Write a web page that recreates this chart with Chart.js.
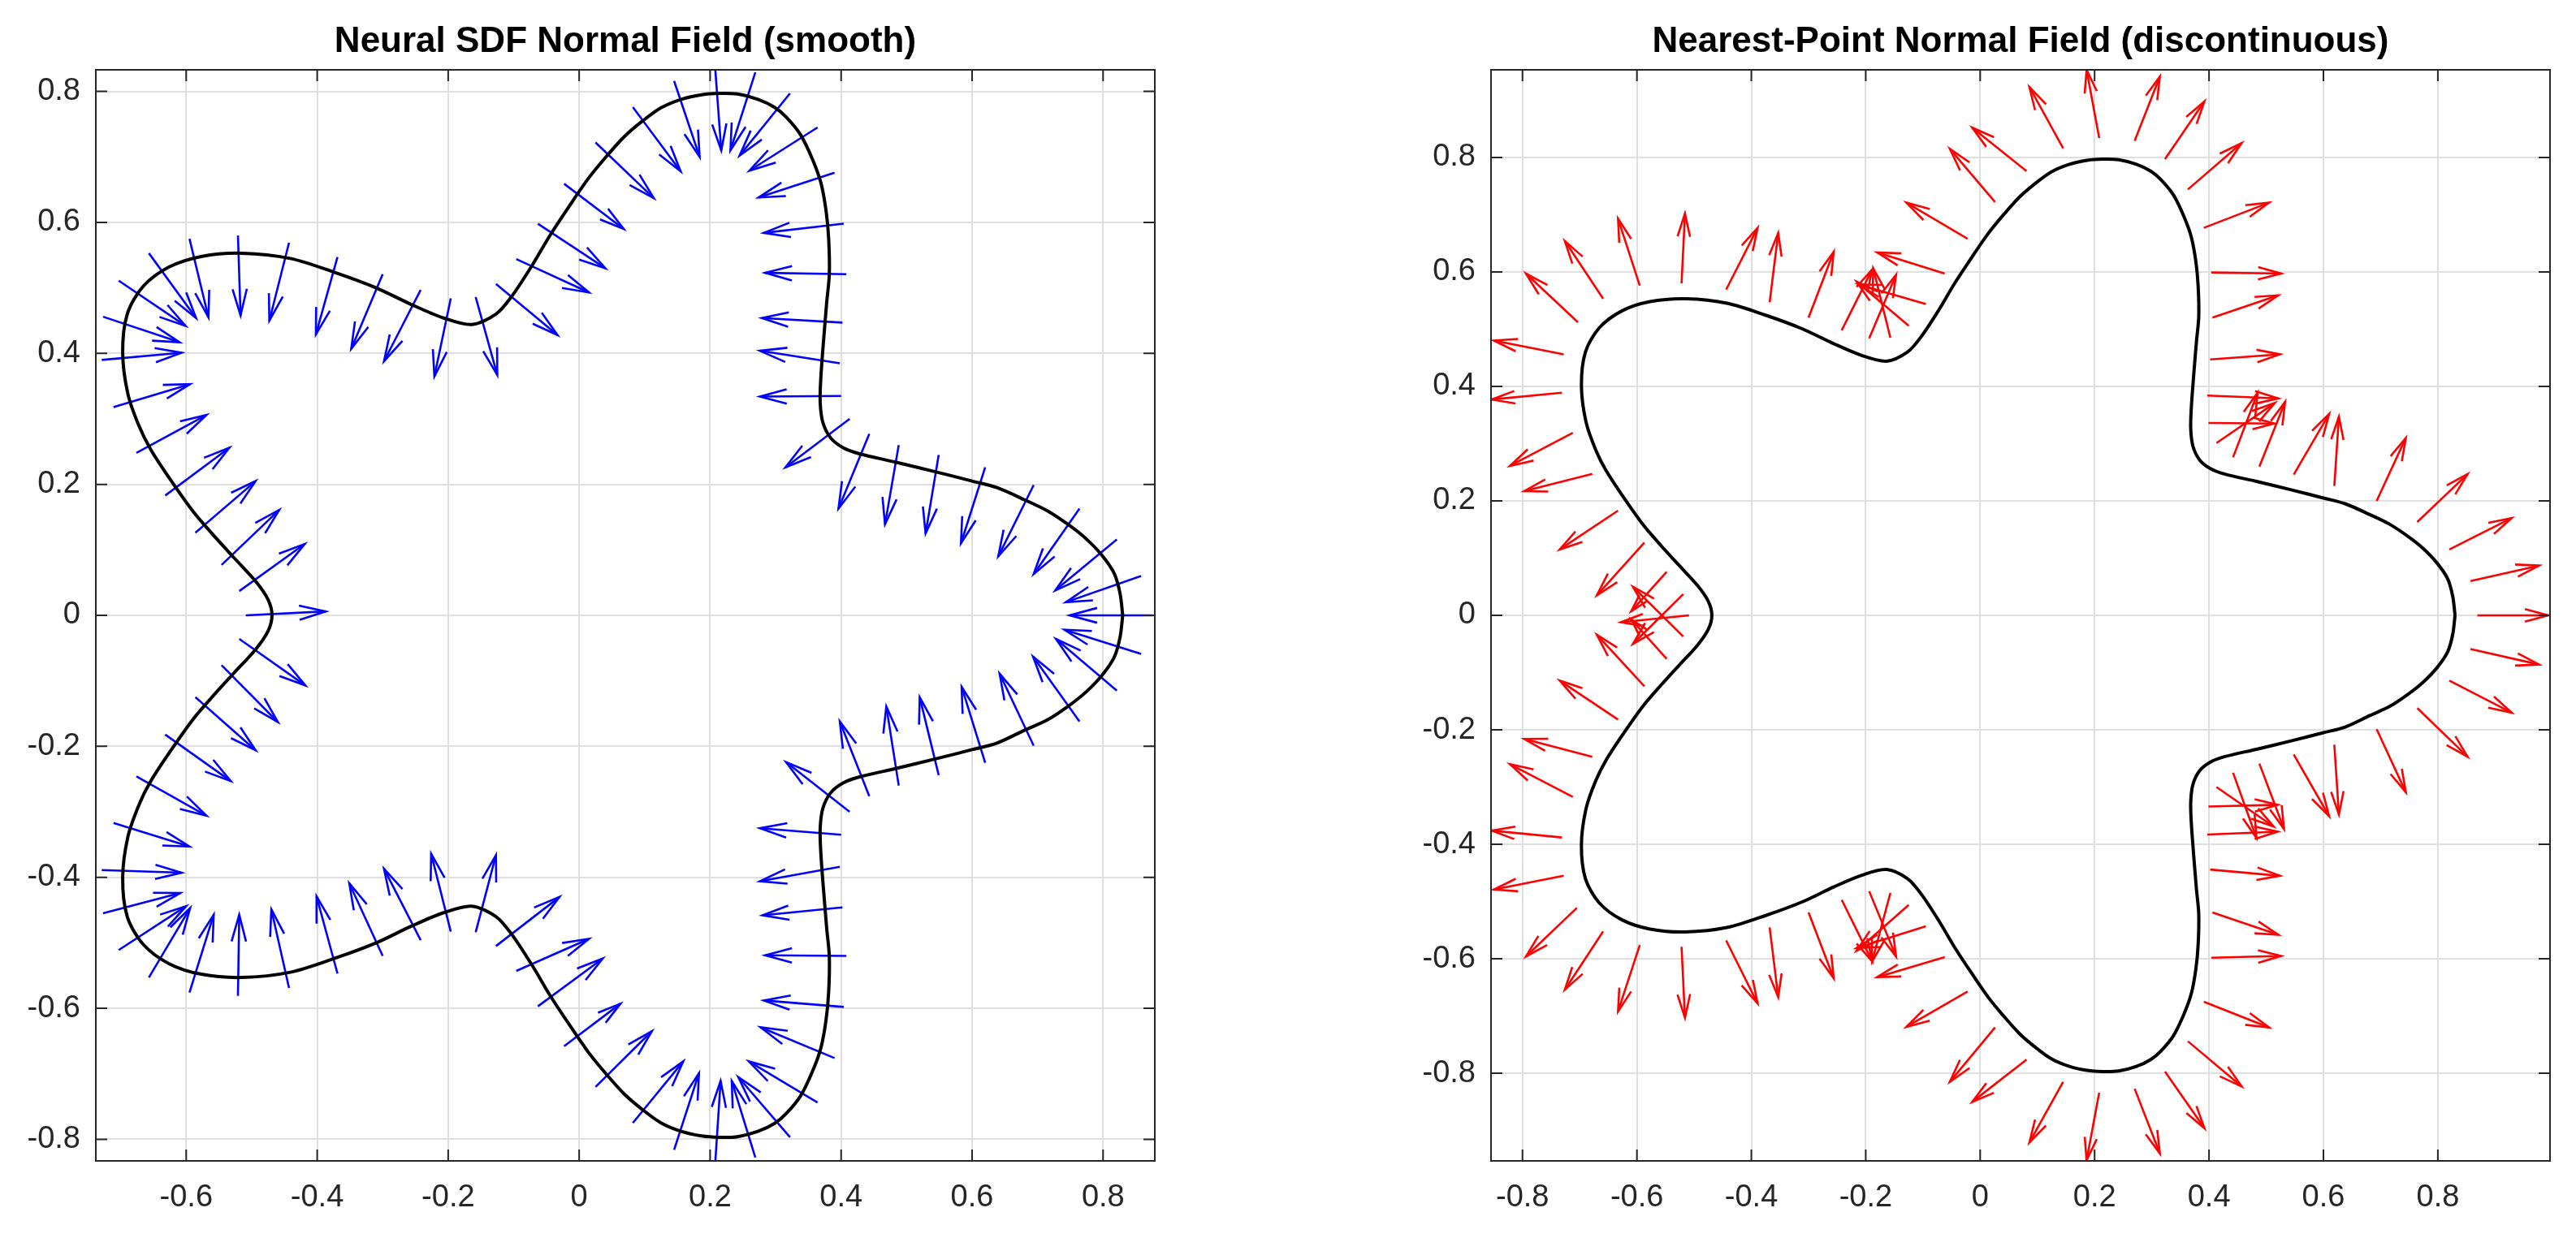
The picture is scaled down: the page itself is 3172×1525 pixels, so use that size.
<!DOCTYPE html>
<html>
<head>
<meta charset="utf-8">
<script src="https://cdn.jsdelivr.net/npm/chart.js@4.4.1/dist/chart.umd.min.js"></script>
<style>
  html, body { margin: 0; padding: 0; background: #ffffff; overflow: hidden; }
  #wrap { position: relative; width: 3172px; height: 1525px; background: #ffffff; }
  canvas { position: absolute; top: 0; }
</style>
</head>
<body>
<div id="wrap">
  <canvas id="c1" width="1586" height="1525" style="left:0px;width:1586px;height:1525px"></canvas>
  <canvas id="c2" width="1454" height="1525" style="left:1718px;width:1454px;height:1525px"></canvas>
</div>
<script>
// ---------------- DATA ----------------
const titleLeft = 'Neural SDF Normal Field (smooth)';
const titleRight = 'Nearest-Point Normal Field (discontinuous)';

// closed star-shaped curve
const curveX = [0.830,0.826,0.817,0.798,0.774,0.749,0.716,0.681,0.638,0.600,0.545,0.483,0.427,0.403,0.384,0.372,0.368,0.369,0.373,0.378,0.382,0.381,0.377,0.369,0.356,0.338,0.316,0.298,0.273,0.242,0.214,0.187,0.156,0.125,0.097,0.069,0.041,0.014,-0.015,-0.044,-0.072,-0.103,-0.127,-0.164,-0.207,-0.257,-0.312,-0.374,-0.441,-0.515,-0.577,-0.626,-0.666,-0.690,-0.697,-0.689,-0.672,-0.654,-0.626,-0.589,-0.558,-0.527,-0.494,-0.475,-0.469,
  -0.475,-0.494,-0.527,-0.558,-0.589,-0.626,-0.654,-0.672,-0.689,-0.697,-0.690,-0.666,-0.626,-0.577,-0.515,-0.441,-0.374,-0.312,-0.257,-0.207,-0.164,-0.127,-0.103,-0.072,-0.044,-0.015,0.014,0.041,0.069,0.097,0.125,0.156,0.187,0.214,0.242,0.273,0.298,0.316,0.338,0.356,0.369,0.377,0.381,0.382,0.378,0.373,0.369,0.368,0.372,0.384,0.403,0.427,0.483,0.545,0.600,0.638,0.681,0.716,0.749,0.774,0.798,0.817,0.826,0.830];
const curveY = [0.000,0.033,0.064,0.092,0.117,0.137,0.159,0.176,0.195,0.205,0.219,0.234,0.247,0.256,0.271,0.295,0.326,0.362,0.417,0.478,0.521,0.575,0.618,0.661,0.697,0.734,0.761,0.776,0.788,0.796,0.797,0.795,0.788,0.775,0.755,0.731,0.700,0.667,0.625,0.581,0.534,0.487,0.460,0.444,0.454,0.475,0.501,0.524,0.545,0.553,0.548,0.532,0.502,0.460,0.401,0.338,0.289,0.253,0.210,0.158,0.122,0.088,0.052,0.024,0.000,
  -0.024,-0.052,-0.088,-0.122,-0.158,-0.210,-0.253,-0.289,-0.338,-0.401,-0.460,-0.502,-0.532,-0.548,-0.553,-0.545,-0.524,-0.501,-0.475,-0.454,-0.444,-0.460,-0.487,-0.534,-0.581,-0.625,-0.667,-0.700,-0.731,-0.755,-0.775,-0.788,-0.795,-0.797,-0.796,-0.788,-0.776,-0.761,-0.734,-0.697,-0.661,-0.618,-0.575,-0.521,-0.478,-0.417,-0.362,-0.326,-0.295,-0.271,-0.256,-0.247,-0.234,-0.219,-0.205,-0.195,-0.175,-0.159,-0.137,-0.117,-0.092,-0.064,-0.033,0.000];

// Left panel arrows (neural SDF normals): tail (x0,y0) -> head (x1,y1)
const sdfX0 = [-0.727,-0.729,-0.711,-0.676,-0.632,-0.586,-0.546,-0.519,-0.703,-0.657,-0.595,-0.521,-0.443,-0.369,-0.300,-0.242,-0.196,-0.158,-0.127,-0.096,-0.063,-0.023,0.025,0.082,0.145,0.208,0.269,0.322,0.364,0.390,0.404,0.408,0.402,0.398,0.400,0.413,0.443,0.488,0.549,0.620,0.694,0.764,0.821,0.858,0.876,-0.509,
  -0.727,-0.729,-0.711,-0.676,-0.632,-0.586,-0.546,-0.519,-0.703,-0.657,-0.595,-0.521,-0.443,-0.369,-0.300,-0.242,-0.196,-0.158,-0.127,-0.096,-0.063,-0.023,0.025,0.082,0.145,0.208,0.269,0.322,0.364,0.390,0.404,0.408,0.402,0.398,0.400,0.413,0.443,0.488,0.549,0.620,0.694,0.764,0.821,0.858];
const sdfY0 = [0.456,0.390,0.318,0.248,0.183,0.126,0.077,0.037,0.511,0.553,0.575,0.580,0.569,0.547,0.521,0.497,0.484,0.486,0.506,0.544,0.598,0.659,0.722,0.776,0.816,0.832,0.829,0.797,0.745,0.676,0.598,0.521,0.447,0.385,0.335,0.300,0.277,0.260,0.245,0.226,0.199,0.163,0.116,0.060,0.000,0.000,
  -0.455,-0.389,-0.317,-0.246,-0.182,-0.125,-0.076,-0.036,-0.511,-0.553,-0.576,-0.581,-0.569,-0.547,-0.520,-0.496,-0.483,-0.484,-0.505,-0.543,-0.597,-0.658,-0.720,-0.775,-0.816,-0.833,-0.828,-0.797,-0.744,-0.676,-0.598,-0.520,-0.446,-0.384,-0.335,-0.300,-0.276,-0.260,-0.244,-0.225,-0.199,-0.162,-0.115,-0.059];
const sdfX1 = [-0.610,-0.607,-0.594,-0.569,-0.534,-0.494,-0.458,-0.419,-0.601,-0.585,-0.566,-0.517,-0.473,-0.402,-0.348,-0.298,-0.221,-0.125,-0.033,0.015,0.040,0.068,0.114,0.155,0.184,0.217,0.231,0.245,0.260,0.274,0.282,0.284,0.279,0.276,0.276,0.315,0.396,0.467,0.529,0.583,0.640,0.694,0.727,0.743,0.749,-0.387,
  -0.609,-0.607,-0.595,-0.569,-0.532,-0.494,-0.460,-0.418,-0.600,-0.594,-0.558,-0.519,-0.470,-0.401,-0.351,-0.298,-0.226,-0.127,-0.030,0.015,0.036,0.063,0.111,0.159,0.183,0.216,0.233,0.243,0.259,0.277,0.282,0.284,0.280,0.276,0.276,0.316,0.398,0.469,0.520,0.584,0.642,0.693,0.728,0.741];
const sdfY1 = [0.417,0.401,0.353,0.306,0.256,0.205,0.161,0.109,0.442,0.454,0.455,0.458,0.450,0.429,0.407,0.388,0.365,0.367,0.428,0.493,0.530,0.590,0.637,0.678,0.700,0.710,0.710,0.702,0.679,0.638,0.584,0.523,0.454,0.404,0.334,0.226,0.163,0.139,0.125,0.110,0.090,0.063,0.038,0.020,0.000,0.006,
  -0.424,-0.393,-0.353,-0.306,-0.253,-0.206,-0.163,-0.107,-0.444,-0.447,-0.457,-0.457,-0.449,-0.429,-0.409,-0.387,-0.364,-0.366,-0.430,-0.494,-0.524,-0.593,-0.635,-0.681,-0.699,-0.711,-0.711,-0.705,-0.681,-0.629,-0.588,-0.519,-0.458,-0.406,-0.325,-0.224,-0.162,-0.139,-0.125,-0.109,-0.089,-0.063,-0.036,-0.022];

// Right panel arrows (nearest-point normals)
const npX0 = [-0.728,-0.731,-0.712,-0.678,-0.633,-0.587,-0.548,-0.519,-0.703,-0.659,-0.595,-0.522,-0.444,-0.368,-0.300,-0.242,-0.194,-0.157,-0.125,-0.095,-0.062,-0.022,0.026,0.081,0.145,0.208,0.270,0.323,0.363,0.391,0.404,0.406,0.402,0.397,0.399,0.413,0.442,0.488,0.548,0.619,0.693,0.764,0.820,0.857,0.869,-0.509,
  -0.728,-0.731,-0.712,-0.678,-0.633,-0.587,-0.548,-0.519,-0.705,-0.659,-0.595,-0.522,-0.444,-0.368,-0.300,-0.242,-0.194,-0.157,-0.125,-0.095,-0.062,-0.022,0.026,0.081,0.145,0.208,0.270,0.323,0.363,0.391,0.404,0.406,0.402,0.397,0.399,0.413,0.442,0.488,0.548,0.619,0.693,0.764,0.820,0.857];
const npY0 = [0.456,0.389,0.319,0.247,0.183,0.127,0.076,0.037,0.512,0.553,0.576,0.580,0.569,0.547,0.520,0.498,0.484,0.485,0.506,0.544,0.597,0.658,0.722,0.776,0.816,0.834,0.829,0.797,0.744,0.677,0.599,0.520,0.447,0.384,0.336,0.301,0.276,0.260,0.246,0.226,0.200,0.163,0.115,0.060,0.000,0.000,
  -0.455,-0.388,-0.317,-0.247,-0.182,-0.124,-0.076,-0.037,-0.511,-0.552,-0.576,-0.579,-0.568,-0.545,-0.519,-0.497,-0.482,-0.485,-0.506,-0.543,-0.597,-0.657,-0.720,-0.776,-0.815,-0.834,-0.827,-0.797,-0.744,-0.675,-0.598,-0.519,-0.444,-0.383,-0.334,-0.300,-0.275,-0.259,-0.243,-0.226,-0.199,-0.162,-0.114,-0.059];
const npX1 = [-0.850,-0.854,-0.822,-0.797,-0.735,-0.670,-0.610,-0.607,-0.794,-0.726,-0.633,-0.516,-0.389,-0.353,-0.256,-0.189,-0.147,-0.187,-0.216,-0.213,-0.180,-0.129,-0.053,-0.014,0.086,0.186,0.314,0.392,0.457,0.505,0.526,0.521,0.524,0.521,0.514,0.515,0.485,0.533,0.610,0.627,0.744,0.852,0.929,0.977,0.993,-0.628,
  -0.850,-0.854,-0.822,-0.797,-0.735,-0.670,-0.610,-0.607,-0.794,-0.726,-0.633,-0.516,-0.389,-0.353,-0.256,-0.189,-0.147,-0.189,-0.216,-0.216,-0.180,-0.129,-0.053,-0.014,0.086,0.186,0.314,0.392,0.457,0.505,0.526,0.521,0.524,0.520,0.520,0.513,0.483,0.531,0.610,0.627,0.744,0.852,0.929,0.977];
const npY1 = [0.480,0.377,0.261,0.217,0.115,0.035,0.007,-0.050,0.597,0.654,0.693,0.702,0.677,0.668,0.635,0.604,0.595,0.606,0.583,0.578,0.634,0.721,0.815,0.852,0.923,0.953,0.941,0.898,0.825,0.721,0.597,0.559,0.456,0.379,0.335,0.371,0.389,0.373,0.352,0.347,0.310,0.247,0.170,0.087,0.000,-0.012,
  -0.479,-0.376,-0.260,-0.216,-0.114,-0.034,-0.007,0.050,-0.596,-0.654,-0.692,-0.703,-0.678,-0.667,-0.634,-0.604,-0.596,-0.605,-0.586,-0.581,-0.632,-0.719,-0.815,-0.850,-0.921,-0.952,-0.940,-0.896,-0.823,-0.720,-0.595,-0.558,-0.455,-0.378,-0.331,-0.369,-0.389,-0.373,-0.351,-0.348,-0.309,-0.247,-0.170,-0.086];

// axis ranges and ticks
const leftXRange = [-0.738, 0.879];
const leftYRange = [-0.833, 0.833];
const rightXRange = [-0.855, 0.996];
const rightYRange = [-0.953, 0.953];
const leftXTicks = [-0.6,-0.4,-0.2,0,0.2,0.4,0.6,0.8];
const leftXLabels = ['-0.6','-0.4','-0.2','0','0.2','0.4','0.6','0.8'];
const rightXTicks = [-0.8,-0.6,-0.4,-0.2,0,0.2,0.4,0.6,0.8];
const rightXLabels = ['-0.8','-0.6','-0.4','-0.2','0','0.2','0.4','0.6','0.8'];
const yTicks = [-0.8,-0.6,-0.4,-0.2,0,0.2,0.4,0.6,0.8];
const yLabels = ['-0.8','-0.6','-0.4','-0.2','0','0.2','0.4','0.6','0.8'];

// ---------------- RENDERING ----------------
const FONT = "'Liberation Sans', Arial, Helvetica, sans-serif";
const AXIS_COLOR = '#262626';

function curvePoints() {
  return curveX.map((x, i) => ({ x: x, y: curveY[i] }));
}

function quiverPlugin(x0, y0, x1, y1, color) {
  return {
    id: 'quiver',
    beforeDatasetsDraw(chart) {
      const { ctx, chartArea: a } = chart;
      const sx = chart.scales.x, sy = chart.scales.y;
      ctx.save();
      ctx.beginPath();
      ctx.rect(a.left, a.top, a.right - a.left, a.bottom - a.top);
      ctx.clip();
      ctx.strokeStyle = color;
      ctx.lineWidth = 2.6;
      ctx.lineCap = 'butt';
      ctx.lineJoin = 'miter';
      const alpha = 0.33, beta = 0.27;
      for (let i = 0; i < x0.length; i++) {
        const px0 = sx.getPixelForValue(x0[i]), py0 = sy.getPixelForValue(y0[i]);
        const px1 = sx.getPixelForValue(x1[i]), py1 = sy.getPixelForValue(y1[i]);
        const dx = px1 - px0, dy = py1 - py0;
        ctx.beginPath();
        ctx.moveTo(px0, py0);
        ctx.lineTo(px1, py1);
        ctx.stroke();
        ctx.beginPath();
        ctx.moveTo(px1 - alpha * (dx + beta * dy), py1 - alpha * (dy - beta * dx));
        ctx.lineTo(px1, py1);
        ctx.lineTo(px1 - alpha * (dx - beta * dy), py1 - alpha * (dy + beta * dx));
        ctx.stroke();
      }
      ctx.restore();
    }
  };
}

const boxPlugin = {
  id: 'boxTicks',
  afterDatasetsDraw(chart) {
    const { ctx, chartArea: a } = chart;
    const sx = chart.scales.x, sy = chart.scales.y;
    const L = 14;
    ctx.save();
    ctx.strokeStyle = AXIS_COLOR;
    ctx.lineWidth = 2;
    ctx.lineCap = 'square';
    ctx.beginPath();
    ctx.rect(a.left, a.top, a.right - a.left, a.bottom - a.top);
    ctx.stroke();
    ctx.lineCap = 'butt';
    ctx.beginPath();
    sx.ticks.forEach(t => {
      const p = sx.getPixelForValue(t.value);
      ctx.moveTo(p, a.bottom); ctx.lineTo(p, a.bottom - L);
      ctx.moveTo(p, a.top); ctx.lineTo(p, a.top + L);
    });
    sy.ticks.forEach(t => {
      const p = sy.getPixelForValue(t.value);
      ctx.moveTo(a.left, p); ctx.lineTo(a.left + L, p);
      ctx.moveTo(a.right, p); ctx.lineTo(a.right - L, p);
    });
    ctx.stroke();
    ctx.restore();
  }
};

function makeChart(id, title, xr, yr, xt, xl, rightPad, qx0, qy0, qx1, qy1, color) {
  const ctx = document.getElementById(id).getContext('2d');
  return new Chart(ctx, {
    type: 'scatter',
    data: {
      datasets: [{
        data: curvePoints(),
        showLine: true,
        borderColor: '#000000',
        borderWidth: 4,
        pointRadius: 0,
        tension: 0.3,
        fill: false
      }]
    },
    options: {
      responsive: false,
      animation: false,
      devicePixelRatio: 1,
      layout: { padding: { left: 0, top: 0, right: rightPad, bottom: 0 } },
      plugins: {
        legend: { display: false },
        tooltip: { enabled: false },
        title: {
          display: true,
          text: title,
          fullSize: false,
          color: '#000000',
          font: { family: FONT, size: 44, weight: 'bold' },
          padding: { top: 25.4, bottom: 7.8 }
        }
      },
      scales: {
        x: {
          type: 'linear',
          min: xr[0], max: xr[1],
          afterBuildTicks: s => { s.ticks = xt.map(v => ({ value: v })); },
          afterFit: s => { s.height = 95; s.paddingLeft = 0; s.paddingRight = 0; },
          grid: { color: '#dfdfdf', lineWidth: 2, drawTicks: false },
          border: { display: false },
          ticks: {
            autoSkip: false, maxRotation: 0, padding: 23,
            color: AXIS_COLOR,
            font: { family: FONT, size: 38 },
            callback: (v, i) => xl[i]
          }
        },
        y: {
          type: 'linear',
          min: yr[0], max: yr[1],
          afterBuildTicks: s => { s.ticks = yTicks.map(v => ({ value: v })); },
          afterFit: s => { s.width = 118; s.paddingTop = 0; s.paddingBottom = 0; },
          grid: { color: '#dfdfdf', lineWidth: 2, drawTicks: false },
          border: { display: false },
          ticks: {
            autoSkip: false, padding: 19,
            color: AXIS_COLOR,
            font: { family: FONT, size: 38 },
            callback: (v, i) => yLabels[i]
          }
        }
      }
    },
    plugins: [quiverPlugin(qx0, qy0, qx1, qy1, color), boxPlugin]
  });
}

makeChart('c1', titleLeft, leftXRange, leftYRange, leftXTicks, leftXLabels, 164,
  sdfX0, sdfY0, sdfX1, sdfY1, '#0000ff');
makeChart('c2', titleRight, rightXRange, rightYRange, rightXTicks, rightXLabels, 32,
  npX0, npY0, npX1, npY1, '#ff0000');
</script>
</body>
</html>
